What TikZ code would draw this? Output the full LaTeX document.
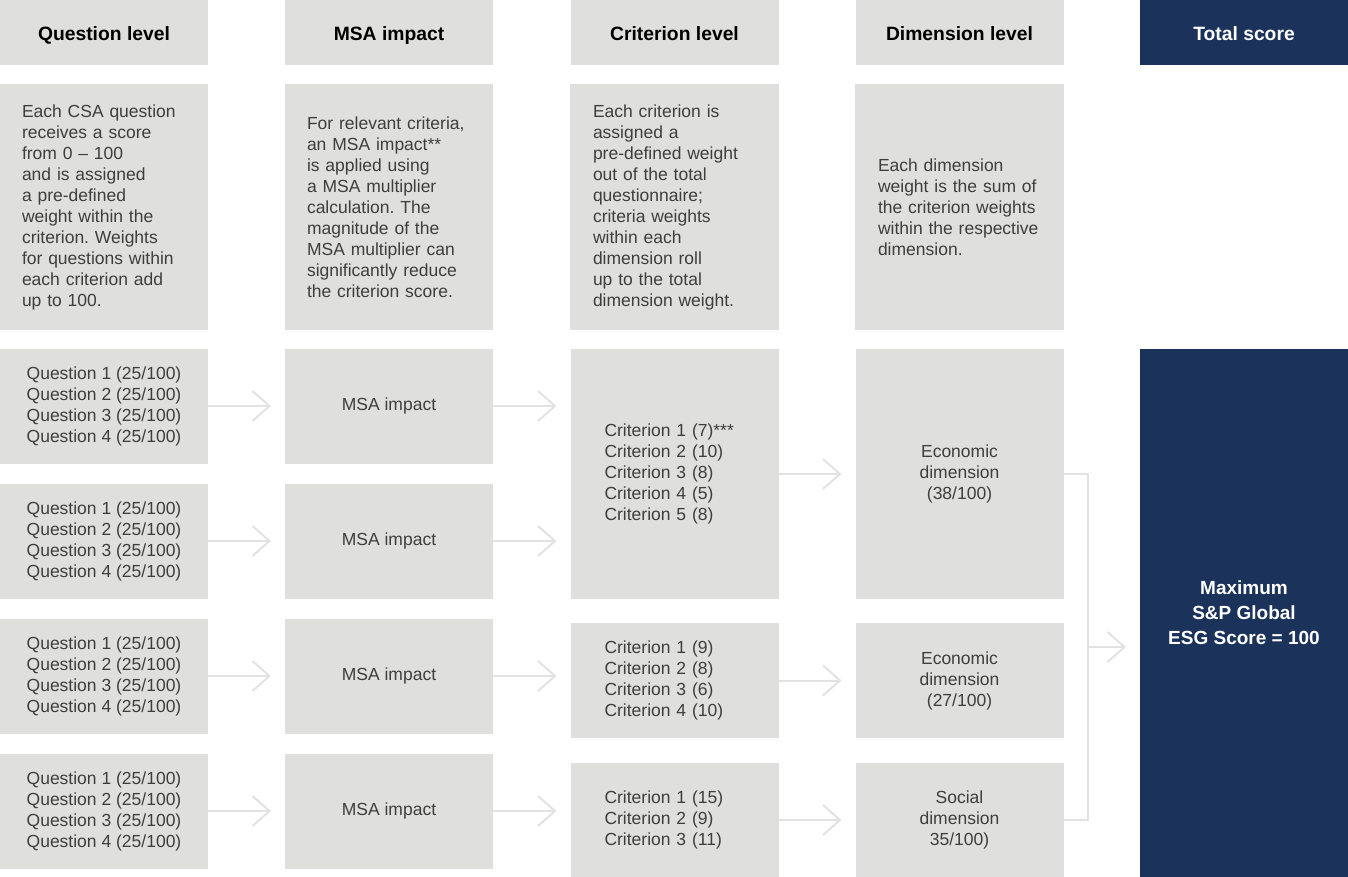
\documentclass[tikz,border=0pt]{standalone}
\usepackage{fontspec}
\setmainfont{Liberation Sans}
\usetikzlibrary{arrows.meta}
\usetikzlibrary{calc}
\frenchspacing

\begin{document}
\begin{tikzpicture}[x=1pt, y=-1pt, every node/.style={inner sep=0,outer sep=0},
    box/.style={fill=boxgray, text=txtgray, minimum width=208pt, minimum height=115pt, align=center, font=\fontsize{17.5}{21}\selectfont},
    hdr/.style={box, minimum height=65pt, text=black, text height=19pt, text depth=2pt, font=\fontsize{19.3}{23}\selectfont\bfseries},
    desc/.style={box, minimum height=246pt, inner xsep=22pt, text width=164pt, align=left},
    crit/.style={box, inner xsep=34pt, text width=140pt, align=left},
    line/.style={draw=arrgray, line width=2pt},
    arr/.style={line, -{Straight Barb[length=17pt, width=30pt]}, shorten >=14pt}]
        % Colors
        \definecolor{boxgray}{RGB}{223,223,222}
        \definecolor{txtgray}{RGB}{62,62,62}
        \definecolor{arrgray}{RGB}{226,226,226}
        \definecolor{navy}{RGB}{27,50,91}

        \useasboundingbox (0,0) rectangle (1348,877);

        % Headers
        \node[hdr] (h_q) at (104, 32.5) {Question level};
        \node[hdr] (h_msa) at (389, 32.5) {MSA impact};
        \node[hdr] (h_crit) at (674.5, 32.5) {Criterion level};
        \node[hdr] (h_dim) at (959.5, 32.5) {Dimension level};
        \node[hdr, fill=navy, text=white] (h_tot) at (1244, 32.5) {Total score};

        % Descriptions
        \node[desc] (d_q) at (104, 207) {Each CSA question\\receives a score\\from 0 – 100\\and is assigned\\a pre-defined\\weight within the\\criterion. Weights\\for questions within\\each criterion add\\up to 100.};
        \node[desc] (d_msa) at (389, 207) {For relevant criteria,\\an MSA impact**\\is applied using\\a MSA multiplier\\calculation. The\\magnitude of the\\MSA multiplier can\\significantly reduce\\the criterion score.};
        \node[desc, inner xsep=23pt, text width=163pt] (d_crit) at (674.5, 207) {Each criterion is\\assigned a\\pre-defined weight\\out of the total\\questionnaire;\\criteria weights\\within each\\dimension roll\\up to the total\\dimension weight.};
        \node[desc, inner xsep=23pt, text width=163pt] (d_dim) at (959.5, 207) {Each dimension\\weight is the sum of\\the criterion weights\\within the respective\\dimension.};

        % Question level
        \node[box] (q1) at (104, 406) {Question 1 (25/100)\\Question 2 (25/100)\\Question 3 (25/100)\\Question 4 (25/100)};
        \node[box] (q2) at (104, 541) {Question 1 (25/100)\\Question 2 (25/100)\\Question 3 (25/100)\\Question 4 (25/100)};
        \node[box] (q3) at (104, 676) {Question 1 (25/100)\\Question 2 (25/100)\\Question 3 (25/100)\\Question 4 (25/100)};
        \node[box] (q4) at (104, 811) {Question 1 (25/100)\\Question 2 (25/100)\\Question 3 (25/100)\\Question 4 (25/100)};

        % MSA impact
        \node[box] (m1) at (389, 406) {MSA impact};
        \node[box] (m2) at (389, 541) {MSA impact};
        \node[box] (m3) at (389, 676) {MSA impact};
        \node[box] (m4) at (389, 811) {MSA impact};

        % Criterion level
        \node[crit, minimum height=250pt] (c_a) at (674.5, 474) {Criterion 1 (7)***\\Criterion 2 (10)\\Criterion 3 (8)\\Criterion 4 (5)\\Criterion 5 (8)};
        \node[crit] (c_b) at (674.5, 680.5) {Criterion 1 (9)\\Criterion 2 (8)\\Criterion 3 (6)\\Criterion 4 (10)};
        \node[crit] (c_c) at (674.5, 820) {Criterion 1 (15)\\Criterion 2 (9)\\Criterion 3 (11)};

        % Dimension level
        \node[box, minimum height=250pt] (dim_a) at (959.5, 474) {Economic\\dimension\\(38/100)};
        \node[box] (dim_b) at (959.5, 680.5) {Economic\\dimension\\(27/100)};
        \node[box] (dim_c) at (959.5, 820) {Social\\dimension\\35/100)};

        % Total score
        \node[box, fill=navy, text=white, minimum height=528pt, font=\fontsize{19}{25}\selectfont\bfseries] (tot) at (1244, 613) {Maximum\\S\&P Global\\ESG Score = 100};

        % Arrows
        \draw[arr] (q1.east) -- (m1.west);
        \draw[arr] (q2.east) -- (m2.west);
        \draw[arr] (q3.east) -- (m3.west);
        \draw[arr] (q4.east) -- (m4.west);

        \draw[arr] (m1.east) -- (m1.east -| c_a.west);
        \draw[arr] (m2.east) -- (m2.east -| c_a.west);
        \draw[arr] (m3.east) -- (m3.east -| c_b.west);
        \draw[arr] (m4.east) -- (m4.east -| c_c.west);

        \draw[arr] (c_a.east) -- (dim_a.west);
        \draw[arr] (c_b.east) -- (dim_b.west);
        \draw[arr] (c_c.east) -- (dim_c.west);

        % Bracket to total
        \draw[line] (dim_a.east) -- ++(24,0) |- (dim_c.east);
        \coordinate (brk) at ($(dim_a.east)!0.5!(dim_c.east)+(24,0)$);
        \draw[arr] (brk) -- (brk -| tot.west);
      \end{tikzpicture}
\end{document}
